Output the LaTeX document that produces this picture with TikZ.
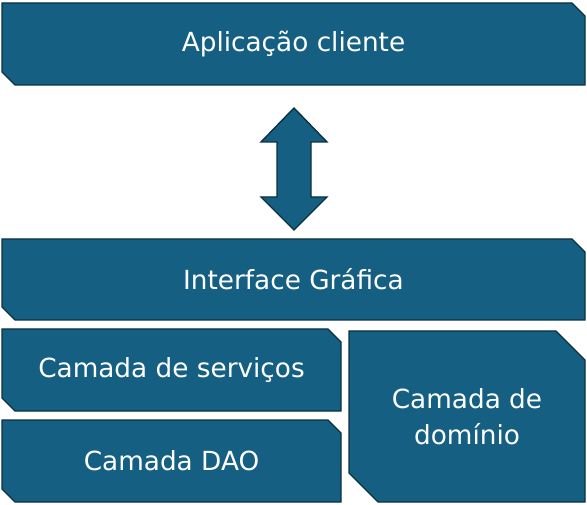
\documentclass[tikz,border=0pt]{standalone}
\usepackage{fontspec}
\setmainfont{DejaVu Sans}
\definecolor{boxfill}{HTML}{156082}
\definecolor{boxline}{HTML}{0B3142}
\tikzset{
  box/.style={fill=boxfill, draw=boxline, line width=1.4pt, line join=miter},
  lbl/.style={text=white, font=\fontsize{26.3}{36}\selectfont, align=center, inner sep=0pt},
}
\newcommand{\cutbox}[7]{%
  \draw[box] (#1,#2) -- ({#3-#5},#2) -- (#3,{#2+#5}) -- (#3,#4) -- ({#1+#5},#4) -- (#1,{#4-#5}) -- cycle;
  \node[lbl] (#6) at ({(#1+#3)/2},{(#2+#4)/2}) {#7};}
\begin{document}
\begin{tikzpicture}[x=1pt,y=-1pt]
\useasboundingbox[fill=white] (0,0) rectangle (587,505);
\cutbox{2}{3}{585}{85}{13}{app}{Aplicação cliente}
\cutbox{2}{239}{585}{320}{13}{gui}{Interface Gráfica}
\cutbox{2}{329}{341}{411}{13}{serv}{Camada de serviços}
\cutbox{2}{420}{341}{502}{13}{dao}{Camada DAO}
\cutbox{349}{331}{585}{502}{29}{dom}{Camada de\\domínio}
\draw[box] (294,108) -- (327,142) -- (311,142) -- (311,197) -- (327,197) -- (294,230)
  -- (261,197) -- (277,197) -- (277,142) -- (261,142) -- cycle;
\end{tikzpicture}
\end{document}
